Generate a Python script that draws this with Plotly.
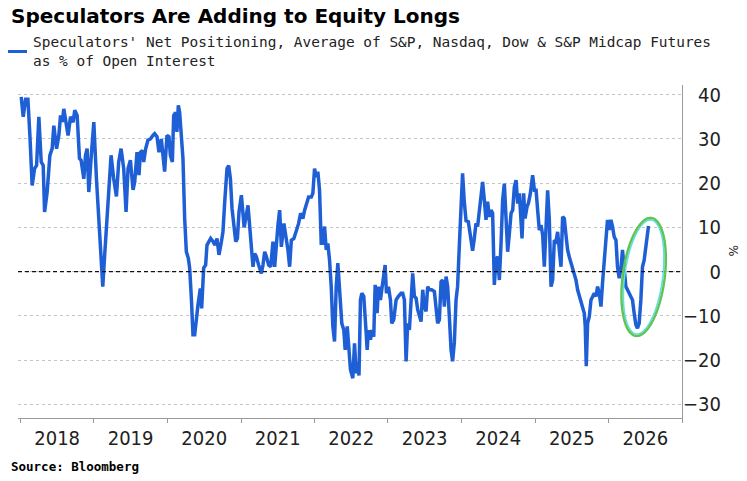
import numpy as np
import pandas as pd
import plotly.graph_objects as go

# ---- data (decimal year, % of open interest) ----
years = [
 2018.011,2018.038,2018.071,2018.102,2018.129,2018.160,2018.193,2018.220,2018.251,2018.283,
 2018.310,2018.329,2018.364,2018.401,2018.432,2018.455,2018.492,2018.523,2018.546,2018.568,
 2018.591,2018.622,2018.649,2018.682,2018.717,2018.740,2018.772,2018.804,2018.826,2018.863,
 2018.886,2018.908,2018.931,2018.962,2018.999,2019.035,2019.067,2019.098,2019.121,2019.144,
 2019.171,2019.202,2019.234,2019.270,2019.307,2019.338,2019.370,2019.406,2019.438,2019.465,
 2019.497,2019.533,2019.556,2019.587,2019.614,2019.633,2019.660,2019.678,2019.705,2019.736,
 2019.769,2019.804,2019.827,2019.859,2019.886,2019.918,2019.940,2019.963,2019.995,2020.022,
 2020.041,2020.068,2020.086,2020.113,2020.130,2020.149,2020.167,2020.190,2020.212,2020.235,
 2020.258,2020.285,2020.303,2020.326,2020.348,2020.371,2020.394,2020.416,2020.448,2020.466,
 2020.493,2020.520,2020.538,2020.565,2020.588,2020.620,2020.647,2020.674,2020.701,2020.734,
 2020.755,2020.779,2020.810,2020.833,2020.856,2020.878,2020.901,2020.928,2020.951,2020.973,
 2021.005,2021.043,2021.095,2021.118,2021.141,2021.163,2021.186,2021.209,2021.240,2021.277,
 2021.299,2021.322,2021.345,2021.376,2021.404,2021.435,2021.458,2021.481,2021.503,2021.526,
 2021.549,2021.584,2021.617,2021.639,2021.662,2021.685,2021.720,2021.753,2021.784,2021.811,
 2021.842,2021.866,2021.889,2021.920,2021.957,2021.978,2022.001,2022.025,2022.046,2022.069,
 2022.092,2022.114,2022.137,2022.160,2022.182,2022.205,2022.228,2022.250,2022.273,2022.296,
 2022.318,2022.341,2022.372,2022.399,2022.418,2022.446,2022.463,2022.490,2022.522,2022.545,
 2022.568,2022.590,2022.606,2022.626,2022.644,2022.671,2022.704,2022.717,2022.735,2022.762,
 2022.780,2022.807,2022.826,2022.853,2022.871,2022.898,2022.916,2022.943,2022.962,2022.980,
 2023.007,2023.034,2023.052,2023.079,2023.111,2023.143,2023.179,2023.201,2023.224,2023.247,
 2023.269,2023.292,2023.315,2023.337,2023.360,2023.383,2023.405,2023.428,2023.451,2023.473,
 2023.496,2023.519,2023.541,2023.564,2023.595,2023.632,2023.655,2023.677,2023.700,2023.723,
 2023.745,2023.768,2023.791,2023.813,2023.836,2023.859,2023.880,2023.904,2023.927,2023.948,
 2023.972,2023.995,2024.016,2024.039,2024.063,2024.094,2024.121,2024.152,2024.175,2024.198,
 2024.220,2024.243,2024.266,2024.288,2024.311,2024.334,2024.356,2024.379,2024.402,2024.424,
 2024.447,2024.470,2024.492,2024.515,2024.538,2024.560,2024.583,2024.606,2024.628,2024.651,
 2024.674,2024.696,2024.719,2024.742,2024.764,2024.787,2024.810,2024.823,2024.845,2024.864,
 2024.891,2024.909,2024.936,2024.967,2024.991,2025.014,2025.035,2025.058,2025.082,2025.103,
 2025.126,2025.150,2025.171,2025.194,2025.217,2025.239,2025.262,2025.285,2025.307,2025.330,
 2025.353,2025.375,2025.398,2025.421,2025.443,2025.466,2025.489,2025.511,2025.534,2025.557,
 2025.579,2025.602,2025.625,2025.647,2025.670,2025.683,2025.697,2025.715,2025.738,2025.761,
 2025.783,2025.806,2025.829,2025.851,2025.874,2025.897,2025.918,2025.942,2025.965,2025.986,
 2026.010,2026.033,2026.054,2026.077,2026.101,2026.122,2026.145,2026.168,2026.190,2026.213,
 2026.236,2026.258,2026.281,2026.304,2026.326,2026.349,2026.372,2026.394,2026.417,2026.440,
 2026.462,2026.485,2026.508,2026.530,2026.544,
]
net_positioning = [
 39.5,35.0,39.0,39.0,30.8,19.5,23.3,24.0,35.0,24.8,
 24.0,13.5,18.0,26.3,27.8,33.0,27.8,30.8,35.3,33.8,
 36.8,33.8,30.8,35.0,33.8,36.5,35.3,25.6,25.2,21.0,
 26.3,27.8,18.0,25.6,33.8,21.0,12.0,6.0,-3.4,3.0,
 9.8,15.8,26.3,21.0,17.0,24.8,27.8,23.3,13.5,23.3,
 25.2,18.5,20.3,27.0,21.8,27.0,27.4,24.8,27.8,29.7,
 30.0,30.8,31.2,30.5,27.0,30.0,27.0,22.6,30.8,30.5,
 26.3,24.8,35.3,36.0,31.6,37.6,36.0,30.8,25.6,12.0,
 4.5,3.0,0.8,-6.0,-14.3,-14.3,-10.5,-7.5,-3.8,-8.3,
 0.8,1.5,6.0,6.8,7.5,6.8,6.0,7.5,3.8,6.8,
 9.0,15.8,23.3,24.0,21.0,14.3,10.5,6.8,7.5,13.5,
 17.3,10.0,15.0,9.4,4.9,1.1,4.1,3.4,1.5,-0.4,
 1.5,4.5,3.4,1.5,1.1,6.8,1.1,6.8,10.5,13.9,
 5.6,10.9,7.9,4.9,1.1,7.1,7.5,9.4,10.9,13.2,
 12.0,13.9,15.4,16.9,16.9,17.7,23.3,21.4,22.6,18.4,
 6.4,6.4,10.2,4.9,6.4,2.6,-3.4,-12.4,-15.8,-3.4,
 1.9,-4.1,-11.7,-13.2,-17.7,-12.4,-15.4,-22.2,-24.1,-16.2,
 -23.0,-20.5,-23.5,-6.4,-4.9,-5.6,-13.9,-17.7,-13.2,-15.4,
 -13.2,-14.7,-3.0,-9.4,-3.4,-6.4,-4.1,-0.4,1.5,-4.9,
 -3.4,-6.4,-11.7,-10.9,-6.4,-5.6,-4.9,-4.9,-6.4,-20.3,
 -11.7,-13.2,-6.4,-0.4,-5.6,-6.0,-8.6,-10.2,-11.3,-4.1,
 -7.9,-9.0,-3.4,-4.1,-4.1,-4.5,-7.9,-11.7,-10.9,-2.3,
 -1.9,-7.9,-1.1,-3.4,-10.2,-17.7,-20.3,-16.0,-6.4,-3.4,
 6.0,15.8,22.2,15.8,11.5,11.3,7.9,4.7,7.5,10.9,
 10.2,13.2,17.7,20.3,16.2,11.7,15.8,12.4,13.9,13.2,
 -3.0,2.6,3.4,-1.9,6.4,16.2,19.9,11.7,4.5,8.6,
 13.2,13.9,19.2,20.7,15.4,17.7,12.0,7.5,17.7,12.0,
 14.7,15.4,17.7,21.8,18.4,18.4,13.9,9.4,10.5,8.3,
 1.1,11.7,18.4,11.7,-3.4,-1.9,7.1,6.8,9.0,4.9,
 1.1,12.4,12.0,8.2,4.9,3.3,1.9,0.5,-0.4,-1.9,
 -4.1,-5.6,-6.4,-7.9,-9.4,-12.4,-21.4,-11.7,-10.2,-6.4,
 -5.6,-4.9,-5.6,-3.4,-4.9,-7.9,-2.6,2.6,9.4,11.7,
 9.4,11.7,10.2,7.9,7.1,1.1,-1.5,0.4,4.9,1.1,
 -3.4,-4.1,-4.9,-5.6,-6.4,-9.4,-12.0,-12.8,-11.7,-6.4,
 1.1,2.6,5.6,9.4,10.3,
]
y_ticks = [-30, -20, -10, 0, 10, 20, 30, 40]
y_range = [-33.1, 42.2]
x_range = ["2017-12-20", "2027-01-01"]
title_text = "Speculators Are Adding to Equity Longs"
legend_line1 = "Speculators' Net Positioning, Average of S&P, Nasdaq, Dow & S&P Midcap Futures"
legend_line2 = "as % of Open Interest"
source_text = "Source: Bloomberg"
highlight_center = (2026.478, -1.2)   # centre of the highlight ellipse (year, value)


def to_date(t):
    y = int(np.floor(t))
    start = pd.Timestamp(year=y, month=1, day=1)
    end = pd.Timestamp(year=y + 1, month=1, day=1)
    return start + (t - y) * (end - start)


dates = [to_date(t) for t in years]

BLUE = "#1f5fd6"
W, H = 747, 481
PLOT_LEFT, PLOT_TOP, PLOT_BOTTOM, PLOT_RIGHT, PAPER_RIGHT = 18, 85, 418, 682, 721
ML, MT, MB, MR = PLOT_LEFT, PLOT_TOP, H - PLOT_BOTTOM, W - PAPER_RIGHT
PW, PH = W - ML - MR, H - MT - MB


def px(xp):
    """screen x pixel -> paper fraction"""
    return (xp - ML) / PW


def py(yp):
    """screen y pixel -> paper fraction"""
    return (H - MB - yp) / PH


fig = go.Figure()
fig.add_trace(go.Scatter(
    x=dates, y=net_positioning, mode="lines",
    line=dict(color=BLUE, width=3.5), showlegend=False, hoverinfo="x+y",
))
# same series bound to the label axis (invisible) so that axis is drawn
fig.add_trace(go.Scatter(
    x=dates, y=net_positioning, mode="lines", yaxis="y2",
    line=dict(color="rgba(0,0,0,0)", width=0), showlegend=False, hoverinfo="skip",
))

tick_font = dict(family="Liberation Sans Narrow, DejaVu Sans Condensed, sans-serif", size=20, color="#222")
x_dom_end = px(PLOT_RIGHT)

fig.update_layout(
    width=W, height=H,
    margin=dict(l=ML, r=MR, t=MT, b=MB),
    paper_bgcolor="white", plot_bgcolor="white",
    showlegend=False,
    xaxis=dict(
        type="date", range=x_range, domain=[0, x_dom_end],
        tick0="2018-01-01", dtick="M12", ticklabelmode="period", tickformat="%Y",
        ticks="outside", ticklen=4, tickcolor="#9a9a9a", tickwidth=1,
        ticklabelstandoff=-2,
        showline=True, linecolor="#9a9a9a", linewidth=1,
        showgrid=False, zeroline=False, tickfont=tick_font,
    ),
    yaxis=dict(
        range=y_range, side="right", tickvals=y_ticks, showticklabels=False,
        showline=True, linecolor="#9a9a9a", linewidth=1, ticks="",
        showgrid=True, gridcolor="#c4c4c4", griddash="dot", gridwidth=1,
        zeroline=False,
    ),
    yaxis2=dict(
        range=y_range, overlaying="y", side="left", anchor="free", position=1.0,
        tickvals=y_ticks, showticklabels=True, showline=False, showgrid=False,
        zeroline=False, ticks="", tickfont=tick_font,
    ),
)

# zero line
fig.add_shape(type="line", xref="paper", yref="y", x0=0, x1=x_dom_end, y0=0, y1=0,
              line=dict(color="#111", width=1.3, dash="4px,3px"), layer="above")

# highlight ellipse (pixel-sized around a data anchor)
def ellipse_path(a, b, tilt_deg, n=90):
    th = np.linspace(0, 2 * np.pi, n)
    s, c = np.sin(np.radians(tilt_deg)), np.cos(np.radians(tilt_deg))
    u, w = a * np.cos(th), b * np.sin(th)
    xs = u * s + w * c
    ys = u * c - w * s
    pts = [f"{xx:.2f},{yy:.2f}" for xx, yy in zip(xs, ys)]
    return "M" + " L".join(pts) + " Z"

anchor_x = to_date(highlight_center[0])
fig.add_shape(type="path", xref="x", yref="y", xsizemode="pixel", ysizemode="pixel",
              xanchor=anchor_x, yanchor=highlight_center[1],
              path=ellipse_path(57.5, 19.0, 7.5), line=dict(color="#5fe0e6", width=1.6), layer="above")
fig.add_shape(type="path", xref="x", yref="y", xsizemode="pixel", ysizemode="pixel",
              xanchor=anchor_x, yanchor=highlight_center[1],
              path=ellipse_path(59.5, 21.0, 7.5), line=dict(color="#62c353", width=2.4), layer="above")

# title, legend, source
fig.add_annotation(text=f"<b>{title_text}</b>", xref="paper", yref="paper", x=px(9), y=py(16),
                   xanchor="left", yanchor="middle", showarrow=False,
                   font=dict(family="DejaVu Sans", size=20, color="#000"))
mono = dict(family="DejaVu Sans Mono", size=14.45, color="#222")
fig.add_annotation(text=legend_line1, xref="paper", yref="paper", x=px(31), y=py(42),
                   xanchor="left", yanchor="middle", showarrow=False, font=mono)
fig.add_annotation(text=legend_line2, xref="paper", yref="paper", x=px(31), y=py(61),
                   xanchor="left", yanchor="middle", showarrow=False, font=mono)
fig.add_shape(type="line", xref="paper", yref="paper", x0=px(8), x1=px(27), y0=py(51.5), y1=py(51.5),
              line=dict(color=BLUE, width=3))
fig.add_annotation(text=f"<b>{source_text}</b>", xref="paper", yref="paper", x=px(9), y=py(466),
                   xanchor="left", yanchor="middle", showarrow=False,
                   font=dict(family="DejaVu Sans Mono", size=12.5, color="#000"))
fig.add_annotation(text="%", xref="paper", yref="paper", x=px(733), y=py(250), textangle=90,
                   xanchor="center", yanchor="middle", showarrow=False,
                   font=dict(family="DejaVu Sans", size=12, color="#222"))

# remove the browser's default 8px page margin so the figure sits at the window origin
fig.write_html("out.html", config={"displayModeBar": False},
               post_script="document.body.style.margin='0px';document.body.style.padding='0px';")
